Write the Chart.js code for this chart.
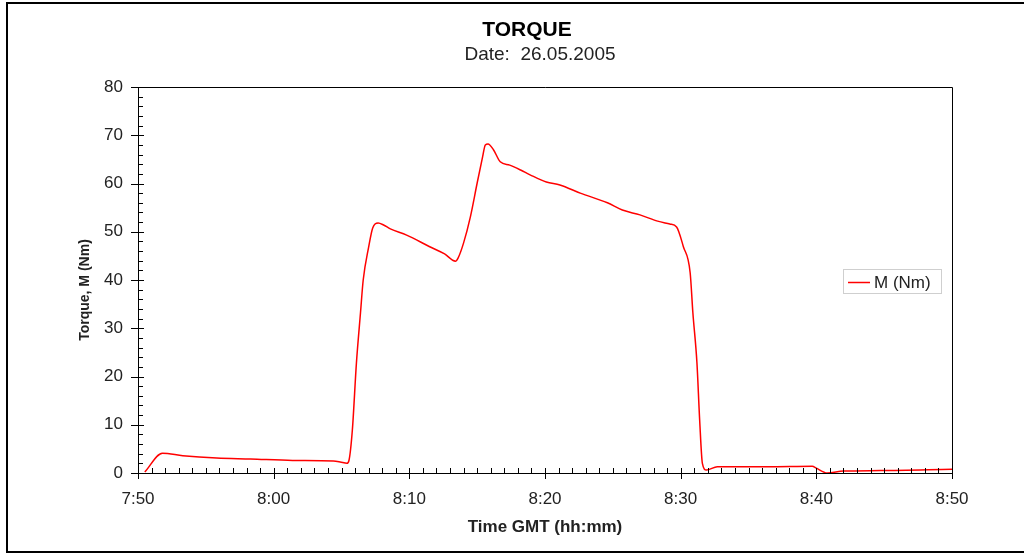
<!DOCTYPE html>
<html><head><meta charset="utf-8">
<script src="https://cdn.jsdelivr.net/npm/chart.js@4.4.0/dist/chart.umd.min.js"></script>
<style>html,body{margin:0;padding:0;background:#fff;}canvas{display:block}</style>
</head><body>
<canvas id="c" width="1024" height="554"></canvas>
<script>
const chartTitle = 'TORQUE';
const chartSubtitle = 'Date:  26.05.2005';
const xAxisTitle = 'Time GMT (hh:mm)';
const yAxisTitle = 'Torque, M (Nm)';
const seriesLabel = 'M (Nm)';
const xTickLabels = ['7:50','8:00','8:10','8:20','8:30','8:40','8:50'];
const yTickValues = [0,10,20,30,40,50,60,70,80];
// minutes after 7:50
const timeMinutes = [0.5,1.8,3.3,5.8,8.3,11.4,14.4,14.9,15.4,15.55,15.8,16.1,16.4,16.6,17.0,17.3,17.7,18.1,18.6,19.8,21.5,22.6,23.4,23.6,24.0,24.5,25.0,25.4,25.6,25.8,26.2,26.7,27.4,28.2,28.9,30.1,31.1,32.6,34.6,35.7,37.0,38.3,39.2,39.7,40.2,40.7,40.9,41.2,41.4,41.6,41.9,42.7,46.4,49.7,50.0,50.8,52.0,54.7,60.0];
const torqueNm = [0.2,4.1,3.6,3.1,2.9,2.6,2.5,2.3,2.0,2.6,8.9,22.8,33.2,40.0,46.8,50.8,51.8,51.4,50.6,49.3,46.9,45.4,43.9,44.6,47.7,53.1,60.1,65.5,68.0,68.2,67.0,64.5,63.8,62.8,61.8,60.3,59.7,58.0,56.0,54.5,53.5,52.2,51.6,51.0,46.9,41.5,33.2,22.8,11.0,2.0,0.6,1.3,1.3,1.4,1.0,0.0,0.4,0.5,0.8];

const FONT = '"Liberation Sans", Arial, sans-serif';
const TXT = '#222';

const decor = {
  id: 'decor',
  afterDraw(chart) {
    const ctx = chart.ctx, a = chart.chartArea;
    const xs = chart.scales.x, ys = chart.scales.y;
    ctx.save();
    // outer frame
    ctx.strokeStyle = '#000'; ctx.lineWidth = 2;
    ctx.beginPath();
    ctx.moveTo(1030, 3); ctx.lineTo(7, 3); ctx.lineTo(7, 552); ctx.lineTo(1030, 552);
    ctx.stroke();
    // plot top & right border
    ctx.lineWidth = 1;
    ctx.beginPath();
    ctx.moveTo(a.left, a.top + 0.5); ctx.lineTo(a.right + 0.5, a.top + 0.5); ctx.lineTo(a.right + 0.5, a.bottom);
    ctx.stroke();
    // ticks
    ctx.beginPath();
    for (let m = 0; m <= 60; m++) {
      const px = Math.round(xs.getPixelForValue(m)) + 0.5;
      if (m % 10 === 0) { ctx.moveTo(px, a.bottom - 5); ctx.lineTo(px, a.bottom + 6); }
      else { ctx.moveTo(px, a.bottom); ctx.lineTo(px, a.bottom - 5); }
    }
    for (let v = 0; v <= 80; v += 2) {
      const py = Math.round(ys.getPixelForValue(v)) + 0.5;
      if (v % 10 === 0) { ctx.moveTo(a.left - 7, py); ctx.lineTo(a.left + 6, py); }
      else { ctx.moveTo(a.left, py); ctx.lineTo(a.left + 5, py); }
    }
    ctx.stroke();
    // titles
    ctx.fillStyle = '#000';
    ctx.textAlign = 'center'; ctx.textBaseline = 'middle';
    ctx.font = 'bold 21px ' + FONT;
    ctx.fillText(chartTitle, 527, 30);
    ctx.font = '19px ' + FONT;
    ctx.fillStyle = TXT;
    ctx.fillText(chartSubtitle, 540, 55);
    ctx.font = 'bold 17px ' + FONT;
    ctx.fillText(xAxisTitle, (a.left + a.right) / 2, 527);
    ctx.save();
    ctx.translate(85, 290); ctx.rotate(-Math.PI / 2);
    ctx.font = 'bold 14px ' + FONT;
    ctx.fillText(yAxisTitle, 0, 0);
    ctx.restore();
    // legend
    const ds = chart.data.datasets[0];
    ctx.strokeStyle = '#cfcfcf'; ctx.lineWidth = 1;
    ctx.strokeRect(843.5, 269.5, 98, 24);
    ctx.strokeStyle = ds.borderColor; ctx.lineWidth = 1.5;
    ctx.beginPath(); ctx.moveTo(848, 282.5); ctx.lineTo(870, 282.5); ctx.stroke();
    ctx.fillStyle = TXT; ctx.font = '17px ' + FONT; ctx.textAlign = 'left';
    ctx.fillText(ds.label, 874, 283);
    ctx.restore();
  }
};

new Chart(document.getElementById('c'), {
  type: 'line',
  data: {
    datasets: [{
      label: seriesLabel,
      data: timeMinutes.map((t, i) => ({ x: t, y: torqueNm[i] })),
      borderColor: '#ff0000',
      borderWidth: 1.5,
      pointRadius: 0,
      fill: false,
      cubicInterpolationMode: 'monotone'
    }]
  },
  options: {
    responsive: false,
    animation: false,
    devicePixelRatio: 1,
    layout: { padding: { left: 0, top: 87, right: 72, bottom: 0 } },
    plugins: { legend: { display: false }, title: { display: false }, tooltip: { enabled: false } },
    scales: {
      x: {
        type: 'linear', min: 0, max: 60,
        grid: { display: false, drawTicks: false },
        border: { display: true, color: '#000', width: 1 },
        ticks: {
          stepSize: 10, padding: 16, color: TXT, maxRotation: 0,
          font: { family: FONT, size: 17 },
          callback: v => xTickLabels[Math.round(v / 10)]
        },
        afterFit: s => { s.height = 81; }
      },
      y: {
        min: 0, max: 80,
        grid: { display: false, drawTicks: false },
        border: { display: true, color: '#000', width: 1 },
        ticks: {
          stepSize: 10, padding: 15, color: TXT,
          font: { family: FONT, size: 17 },
          callback: v => yTickValues.includes(v) ? String(v) : ''
        },
        afterFit: s => { s.width = 138; }
      }
    }
  },
  plugins: [decor]
});
</script>
</body></html>
